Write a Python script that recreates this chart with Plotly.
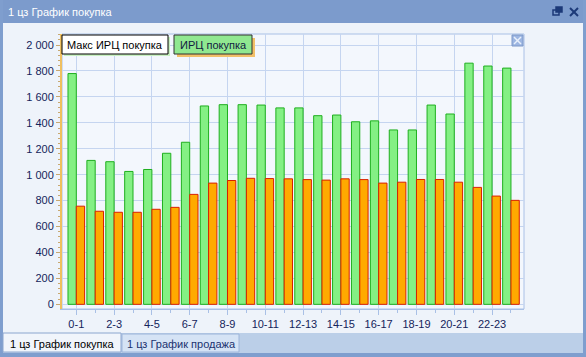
import plotly.graph_objects as go

# ---------------- data ----------------
hour_labels = ["0-1", "1-2", "2-3", "3-4", "4-5", "5-6", "6-7", "7-8", "8-9", "9-10",
               "10-11", "11-12", "12-13", "13-14", "14-15", "15-16", "16-17", "17-18",
               "18-19", "19-20", "20-21", "21-22", "22-23", "23-24"]
max_irc_buy = [1780, 1110, 1100, 1025, 1040, 1165, 1250, 1530, 1540, 1540,
               1537, 1515, 1515, 1455, 1460, 1408, 1415, 1345, 1345, 1537,
               1468, 1860, 1838, 1822]
irc_buy = [757, 718, 710, 710, 733, 748, 848, 935, 955, 972,
           970, 968, 962, 958, 968, 962, 935, 942, 963, 963,
           942, 902, 835, 802]
series_names = ["Макс ИРЦ покупка", "ИРЦ покупка"]
y_tick_values = [0, 200, 400, 600, 800, 1000, 1200, 1400, 1600, 1800, 2000]
window_title = "1 цз График покупка"
tab_titles = ["1 цз График покупка", "1 цз График продажа"]

# ---------------- geometry ----------------
W, H = 586, 357
L, R, T, B = 62, 62, 34, 48
PW, PH = W - L - R, H - T - B


def px(x):
    return (x - L) / PW


def py(y):
    return 1 - (y - T) / PH


FONT = "Liberation Sans, Arial, sans-serif"
xs = list(range(len(hour_labels)))

fig = go.Figure()
fig.add_trace(go.Bar(x=xs, y=max_irc_buy, name=series_names[0],
                     marker=dict(color="#84F084", line=dict(color="#1FAF1F", width=1)),
                     hovertext=hour_labels))
fig.add_trace(go.Bar(x=xs, y=irc_buy, name=series_names[1],
                     marker=dict(color="#FFAA00", line=dict(color="#D82000", width=1)),
                     hovertext=hour_labels))

shapes = []
ann = []

# window frame & title bar
shapes.append(dict(type="rect", xref="paper", yref="paper", x0=px(0), x1=px(W), y0=py(0), y1=py(23),
                   fillcolor="#7C9BCC", line_width=0, layer="above"))
shapes.append(dict(type="rect", xref="paper", yref="paper", x0=px(0), x1=px(3), y0=py(0), y1=py(H),
                   fillcolor="#7F9ECE", line_width=0, layer="above"))
shapes.append(dict(type="rect", xref="paper", yref="paper", x0=px(W - 3), x1=px(W), y0=py(0), y1=py(H),
                   fillcolor="#7F9ECE", line_width=0, layer="above"))
shapes.append(dict(type="rect", xref="paper", yref="paper", x0=px(0), x1=px(W), y0=py(H - 4), y1=py(H),
                   fillcolor="#7F9ECE", line_width=0, layer="above"))
ann.append(dict(text=window_title, xref="paper", yref="paper", x=px(6), y=py(12),
                xanchor="left", yanchor="middle", showarrow=False,
                font=dict(family=FONT, size=11, color="white")))
# restore icon
shapes.append(dict(type="rect", xref="paper", yref="paper", x0=px(553), x1=px(559), y0=py(10), y1=py(15),
                   line=dict(color="#1C3A78", width=1.5), fillcolor="rgba(0,0,0,0)", layer="above"))
shapes.append(dict(type="rect", xref="paper", yref="paper", x0=px(556), x1=px(562), y0=py(7), y1=py(12),
                   line=dict(color="#1C3A78", width=1.5), fillcolor="#1C3A78", layer="above"))
# close icon
shapes.append(dict(type="line", xref="paper", yref="paper", x0=px(570), x1=px(578), y0=py(8), y1=py(16),
                   line=dict(color="#1C3A78", width=2), layer="above"))
shapes.append(dict(type="line", xref="paper", yref="paper", x0=px(570), x1=px(578), y0=py(16), y1=py(8),
                   line=dict(color="#1C3A78", width=2), layer="above"))

# tab strip
shapes.append(dict(type="rect", xref="paper", yref="paper", x0=px(3), x1=px(W - 3), y0=py(333), y1=py(H - 4),
                   fillcolor="#BBCFE8", line_width=0, layer="above"))
shapes.append(dict(type="rect", xref="paper", yref="paper", x0=px(3), x1=px(121), y0=py(333), y1=py(352),
                   fillcolor="#F1F5FB", line=dict(color="#8CA6CF", width=1), layer="above"))
shapes.append(dict(type="rect", xref="paper", yref="paper", x0=px(122), x1=px(239), y0=py(334), y1=py(352),
                   fillcolor="#D5E3F5", line=dict(color="#9DB5DA", width=1), layer="above"))
ann.append(dict(text=tab_titles[0], xref="paper", yref="paper", x=px(8), y=py(344),
                xanchor="left", yanchor="middle", showarrow=False,
                font=dict(family=FONT, size=11, color="#000000")))
ann.append(dict(text=tab_titles[1], xref="paper", yref="paper", x=px(125), y=py(344),
                xanchor="left", yanchor="middle", showarrow=False,
                font=dict(family=FONT, size=11, color="#1B3270")))

# plot border
shapes.append(dict(type="rect", xref="paper", yref="paper", x0=0, x1=1, y0=0, y1=1,
                   line=dict(color="#A9C0E6", width=1), fillcolor="rgba(0,0,0,0)", layer="below"))

# legend boxes
shapes.append(dict(type="rect", xref="paper", yref="paper", x0=px(64), x1=px(170), y0=py(37), y1=py(56),
                   fillcolor="#C8F0C0", line_width=0, layer="above"))
shapes.append(dict(type="rect", xref="paper", yref="paper", x0=px(62), x1=px(168), y0=py(35), y1=py(54),
                   fillcolor="#FFFFFF", line=dict(color="#000000", width=1), layer="above"))
shapes.append(dict(type="rect", xref="paper", yref="paper", x0=px(177), x1=px(255), y0=py(38), y1=py(57),
                   fillcolor="#F2C068", line_width=0, layer="above"))
shapes.append(dict(type="rect", xref="paper", yref="paper", x0=px(174), x1=px(252), y0=py(35), y1=py(54),
                   fillcolor="#90E890", line=dict(color="#303030", width=1), layer="above"))
ann.append(dict(text=series_names[0], xref="paper", yref="paper", x=px(115), y=py(44.5),
                xanchor="center", yanchor="middle", showarrow=False,
                font=dict(family=FONT, size=11, color="#000000")))
ann.append(dict(text=series_names[1], xref="paper", yref="paper", x=px(213), y=py(44.5),
                xanchor="center", yanchor="middle", showarrow=False,
                font=dict(family=FONT, size=11, color="#102040")))
# legend close button
shapes.append(dict(type="rect", xref="paper", yref="paper", x0=px(512), x1=px(523), y0=py(35), y1=py(46),
                   fillcolor="#9DB6E2", line=dict(color="#7D98C8", width=1), layer="above"))
shapes.append(dict(type="line", xref="paper", yref="paper", x0=px(514), x1=px(521), y0=py(37), y1=py(44),
                   line=dict(color="#E8F0FC", width=1.5), layer="above"))
shapes.append(dict(type="line", xref="paper", yref="paper", x0=px(514), x1=px(521), y0=py(44), y1=py(37),
                   line=dict(color="#E8F0FC", width=1.5), layer="above"))

fig.update_layout(
    width=W, height=H, autosize=False,
    margin=dict(l=L, r=R, t=T, b=B, pad=0),
    paper_bgcolor="#EEF3FA", plot_bgcolor="#F3F7FD",
    barmode="group", bargap=0.12, bargroupgap=0,
    showlegend=False,
    separators=", ",
    font=dict(family=FONT, size=11, color="#14245A"),
    shapes=shapes, annotations=ann,
)
fig.update_xaxes(
    range=[-0.757, 23.69], tickvals=xs[::2], ticktext=hour_labels[::2],
    showgrid=True, gridcolor="#C5D5F0", gridwidth=1, zeroline=False,
    showline=True, linecolor="#A9C0E6", linewidth=1,
    ticks="outside", ticklen=5, tickcolor="#A9C0E6",
    minor=dict(dtick=1, tick0=0, ticks="outside", ticklen=3, tickcolor="#A9C0E6", showgrid=False),
    tickfont=dict(family=FONT, size=11, color="#14245A"),
)
fig.update_yaxes(
    range=[-36, 2085], tickvals=y_tick_values, tickformat=",d",
    showgrid=True, gridcolor="#C5D5F0", gridwidth=1, zeroline=False,
    showline=True, linecolor="#EFC060", linewidth=2,
    ticks="outside", ticklen=4, tickcolor="#C8A870",
    minor=dict(dtick=40, tick0=0, ticks="outside", ticklen=2, tickcolor="#C8A870", showgrid=False),
    tickfont=dict(family=FONT, size=11, color="#14245A"),
)

fig.write_html("out.html", config={"displayModeBar": False},
               post_script="document.body.style.margin='0';document.body.style.overflow='hidden';")
